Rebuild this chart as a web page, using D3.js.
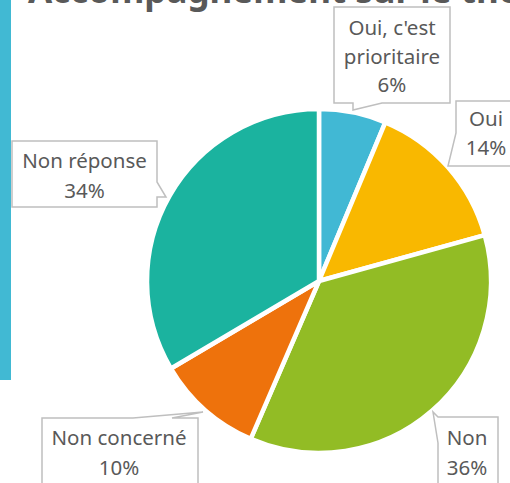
<!DOCTYPE html>
<html>
<head>
<meta charset="utf-8">
<script src="https://cdn.jsdelivr.net/npm/d3@7"></script>
<style>
  html, body { margin: 0; padding: 0; background: #ffffff; }
  svg { display: block; }
</style>
</head>
<body>
<svg id="chart" width="510" height="483"></svg>
<script>
// ---- data ----
const title = "Accompagnement sur le thème";
const categories = ["Oui, c'est prioritaire", "Oui", "Non", "Non concerné", "Non réponse"];
const values = [6.3, 14.4, 35.8, 10.0, 33.5];
const colors = ["#41B8D4", "#F9B800", "#92BC25", "#EE720C", "#1BB39F"];
// label lines (category text broken as in the picture)
const labelLines = [["Oui, c'est", "prioritaire"], ["Oui"], ["Non"], ["Non concerné"], ["Non réponse"]];

// ---- layout ----
const W = 510, H = 483;
const cx = 319, cy = 281, R = 172;
const textColor = "#595959";
const fontFamily = "'Noto Sans', 'Open Sans', sans-serif";

const svg = d3.select("#chart");

// left accent bar
svg.append("rect").attr("x", 0).attr("y", 0).attr("width", 11).attr("height", 380).attr("fill", "#41B9D3");

// title (cut off at top)
svg.append("text")
  .attr("x", 28).attr("y", 3)
  .attr("font-family", fontFamily)
  .attr("font-size", 35)
  .attr("font-weight", 700)
  .attr("fill", textColor)
  .text(title);

// pie
const pie = d3.pie().sort(null).value(d => d)(values);
const arc = d3.arc().innerRadius(0).outerRadius(R);
const g = svg.append("g").attr("transform", `translate(${cx},${cy})`);
g.selectAll("path.slice")
  .data(pie)
  .join("path")
  .attr("class", "slice")
  .attr("d", arc)
  .attr("fill", (d, i) => colors[i])
  .attr("stroke", "#ffffff")
  .attr("stroke-width", 4.5)
  .attr("stroke-linejoin", "round");

// callout boxes (layout only): outline path and text anchor positions
const callouts = [
  { path: "M334,7 H450 V103 H382 L353,110 V103 H334 Z", tx: 392, ty: [35, 64, 92] },
  { path: "M456,101 H518 V166 H456 L448,166 L456,133 Z", tx: 486, ty: [126, 155] },
  { path: "M438,417 H498 V500 H438 V443 L433,412 L438,417 Z", tx: 467, ty: [445, 475] },
  { path: "M42,418 H133 L203,412 L172,418 H198 V500 H42 Z", tx: 119, ty: [445, 475] },
  { path: "M12,141 H157 V182 L166,197 H157 V207 H12 Z", tx: 84.5, ty: [168, 198] }
];

const pct = d3.format(".0f");
categories.forEach((c, i) => {
  const co = callouts[i];
  svg.append("path")
    .attr("d", co.path)
    .attr("fill", "#ffffff")
    .attr("stroke", "#BFBFBF")
    .attr("stroke-width", 1.5);
  const lines = labelLines[i].concat([pct(values[i]) + "%"]);
  const t = svg.append("text")
    .attr("font-family", fontFamily)
    .attr("font-size", 20.5)
    .attr("fill", textColor)
    .attr("text-anchor", "middle");
  lines.forEach((ln, j) => {
    t.append("tspan").attr("x", co.tx).attr("y", co.ty[j]).text(ln);
  });
});
</script>
</body>
</html>
